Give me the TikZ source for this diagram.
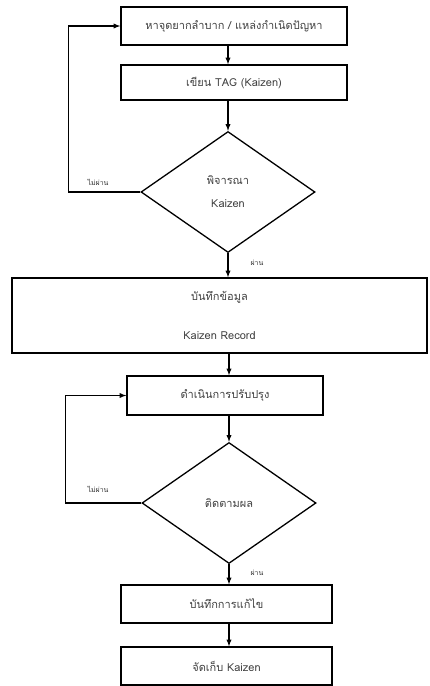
\documentclass[tikz,border=0pt]{standalone}
\usepackage{fontspec}
\setmainfont{Loma}[Script=Thai]
\usetikzlibrary{shapes.geometric}
\begin{document}
\begin{tikzpicture}
[x=1pt, y=-1pt, font=\fontsize{11}{13}\selectfont, line width=1.3pt, >=latex,
procbox/.style={rectangle, draw, inner sep=0pt, text=black!75},
decision/.style={diamond, draw, inner sep=0pt, minimum width=174pt, minimum height=121pt, text=black!75, align=center},
flowlabel/.style={font=\fontsize{7}{8}\selectfont, text=black!80}
]
\useasboundingbox (0,0) rectangle (429,686);

\node[procbox, minimum width=226pt, minimum height=38pt] (find) at (234,26) {หาจุดยากลำบาก / แหล่งกำเนิดปัญหา};
\node[procbox, minimum width=226pt, minimum height=35pt] (tag) at (234,82.5) {เขียน TAG (Kaizen)};
\node[decision] (review) at (228,192) {พิจารณา\\[10pt]Kaizen};
\node[procbox, minimum width=415pt, minimum height=75pt, align=center] (record) at (219.5,315.5) {บันทึกข้อมูล\\[26pt]Kaizen Record};
\node[procbox, minimum width=196pt, minimum height=39pt] (improve) at (225,395.5) {ดำเนินการปรับปรุง};
\node[decision] (follow) at (229,503) {ติดตามผล};
\node[procbox, minimum width=211pt, minimum height=38pt] (fix) at (226.5,604) {บันทึกการแก้ไข};
\node[procbox, minimum width=211pt, minimum height=38pt] (store) at (226.5,666) {จัดเก็บ Kaizen};

\node[flowlabel] (fail1) at (98,182) {ไม่ผ่าน};
\node[flowlabel] (pass1) at (257,263) {ผ่าน};
\node[flowlabel] (fail2) at (98,489) {ไม่ผ่าน};
\node[flowlabel] (pass2) at (257,573) {ผ่าน};

\draw[->] (find.south -| review.north) -- (tag.north -| review.north);
\draw[->] (tag.south -| review.north) -- (review.north);
\draw[->] (review.south) -- (record.north -| review.south);
\draw[->] (review.west) -- ++(-72,0) |- (find.west);
\draw[->] (record.south -| follow.north) -- (improve.north -| follow.north);
\draw[->] (improve.south -| follow.north) -- (follow.north);
\draw[->] (follow.west) -- ++(-76,0) |- (improve.west);
\draw[->] (follow.south) -- (fix.north -| follow.south);
\draw[->] (fix.south -| follow.south) -- (store.north -| follow.south);
\end{tikzpicture}
\end{document}
